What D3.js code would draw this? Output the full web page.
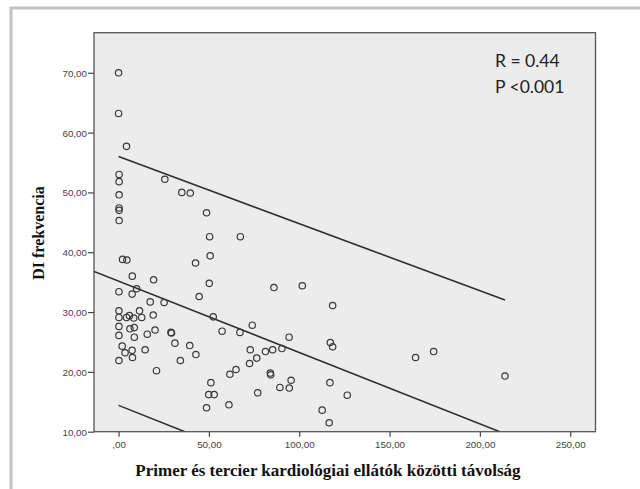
<!DOCTYPE html>
<html>
<head>
<meta charset="utf-8">
<script src="https://cdn.jsdelivr.net/npm/d3@7/dist/d3.min.js"></script>
<style>
  html, body { margin: 0; padding: 0; background: #ffffff; }
  svg { display: block; }
</style>
</head>
<body>
<svg id="chart" width="640" height="489"></svg>
<script>
// Distance between primary and tertiary cardiology care (x) vs. DI frequency (y)
const distance = [
  0, 0, 4.4, 0.3, 0.3, 0.3, 0.3, 0.3, 0.3, 25.6,
  35.0, 39.7, 48.7, 50.4, 67.4, 2.2, 4.6, 42.6, 50.7, 7.6,
  19.4, 50.2, 10.0, 0.2, 7.5, 44.6, 17.5, 25.2, 0.2, 11.6,
  19.2, 0.2, 4.4, 6.0, 8.4, 12.8, 52.4, 0.2, 6.3, 8.7,
  20.2, 29.0, 29.3, 57.3, 67.2, 74.0, 0.2, 8.7, 15.9, 31.2,
  2.0, 39.4, 3.6, 7.5, 14.7, 42.8, 72.9, 0.2, 7.7, 34.2,
  72.5, 76.5, 21.0, 65.0, 61.6, 51.1, 49.9, 52.9, 77.0, 61.1,
  48.7, 86.0, 101.7, 118.5, 94.4, 81.3, 85.3, 90.4, 117.2, 118.5,
  84.0, 84.2, 95.5, 89.3, 94.5, 117.0, 126.6, 112.7, 116.6, 164.4,
  174.4, 213.9
];
const diFrequency = [
  70.0, 63.2, 57.7, 53.0, 51.8, 49.6, 47.4, 47.0, 45.3, 52.2,
  50.0, 49.9, 46.6, 42.6, 42.6, 38.8, 38.7, 38.2, 39.4, 36.0,
  35.4, 34.8, 33.9, 33.4, 33.0, 32.6, 31.7, 31.6, 30.2, 30.2,
  29.5, 29.1, 29.1, 29.4, 29.0, 29.1, 29.2, 27.6, 27.2, 27.4,
  27.0, 26.6, 26.5, 26.8, 26.6, 27.8, 26.1, 25.8, 26.3, 24.8,
  24.3, 24.4, 23.2, 23.6, 23.7, 22.9, 23.7, 21.9, 22.4, 21.9,
  21.4, 22.3, 20.2, 20.4, 19.6, 18.2, 16.2, 16.2, 16.5, 14.5,
  14.0, 34.1, 34.4, 31.1, 25.8, 23.4, 23.7, 23.9, 24.9, 24.2,
  19.8, 19.5, 18.6, 17.4, 17.3, 18.2, 16.1, 13.6, 11.5, 22.4,
  23.4, 19.3
];

// Regression line and prediction bounds, as [x, y] pairs in data units
const fitLine = [[-13.6, 36.8], [211, 10]];
const upperBound = [[0, 56.0], [213.9, 32.0]];
const lowerBound = [[0, 14.4], [36.7, 10]];

const xTicks = [0, 50, 100, 150, 200, 250];
const yTicks = [10, 20, 30, 40, 50, 60, 70];
const statLines = ["R = 0.44", "P <0.001"];
const xTitle = "Primer és tercier kardiológiai ellátók közötti távolság";
const yTitle = "DI frekvencia";

const svg = d3.select("#chart");
const plot = { left: 94, right: 595.5, top: 32.7, bottom: 431.7 };

const x = d3.scaleLinear().domain([-13.6, 264]).range([plot.left, plot.right]);
const y = d3.scaleLinear().domain([10, 76.7]).range([plot.bottom, plot.top]);

const fmt = v => (v === 0 ? ",00" : d3.format(".2f")(v).replace(".", ","));

// outer frame (top and left edges)
svg.append("path")
  .attr("d", "M11,489 L11,8 L640,8")
  .attr("fill", "none")
  .attr("stroke", "#c4c4c4")
  .attr("stroke-width", 3);

// plot background
svg.append("rect")
  .attr("x", plot.left).attr("y", plot.top)
  .attr("width", plot.right - plot.left).attr("height", plot.bottom - plot.top)
  .attr("fill", "#ececec");

svg.append("clipPath").attr("id", "plotClip")
  .append("rect")
  .attr("x", plot.left).attr("y", plot.top)
  .attr("width", plot.right - plot.left).attr("height", plot.bottom - plot.top);

// axes
const xAxis = svg.append("g")
  .attr("transform", `translate(0,${plot.bottom})`)
  .call(d3.axisBottom(x).tickValues(xTicks).tickFormat(fmt).tickSize(5).tickSizeOuter(0));
const yAxis = svg.append("g")
  .attr("transform", `translate(${plot.left},0)`)
  .call(d3.axisLeft(y).tickValues(yTicks).tickFormat(fmt).tickSize(6).tickSizeOuter(0));

[xAxis, yAxis].forEach(g => {
  g.select(".domain").remove();
  g.selectAll(".tick line").attr("stroke", "#444").attr("stroke-width", 1.2);
  g.selectAll(".tick text")
    .attr("fill", "#444")
    .style("font-family", "'Liberation Sans', Arial, sans-serif")
    .style("font-size", "9.8px");
});
xAxis.selectAll(".tick text").attr("dy", "0.85em").attr("y", 8);
yAxis.selectAll(".tick text").attr("x", -7).attr("dy", "0.35em");

// fit line and prediction bounds
const line = d3.line().x(d => x(d[0])).y(d => y(d[1]));
const lines = svg.append("g").attr("clip-path", "url(#plotClip)");
[fitLine, upperBound, lowerBound].forEach(seg => {
  lines.append("path")
    .attr("d", line(seg))
    .attr("fill", "none")
    .attr("stroke", "#2e2e2e")
    .attr("stroke-width", 1.6);
});

// data points
svg.append("g")
  .selectAll("circle")
  .data(d3.range(distance.length))
  .join("circle")
  .attr("cx", i => x(distance[i]))
  .attr("cy", i => y(diFrequency[i]))
  .attr("r", 3.2)
  .attr("fill", "none")
  .attr("stroke", "#3a3a3a")
  .attr("stroke-width", 1.2);

// plot frame
svg.append("rect")
  .attr("x", plot.left).attr("y", plot.top)
  .attr("width", plot.right - plot.left).attr("height", plot.bottom - plot.top)
  .attr("fill", "none")
  .attr("stroke", "#555")
  .attr("stroke-width", 1.3);

// statistics text
svg.append("g")
  .selectAll("text")
  .data(statLines)
  .join("text")
  .attr("x", 495)
  .attr("y", (d, i) => 66.5 + i * 26.5)
  .attr("fill", "#222")
  .style("font-family", "Lato, 'Open Sans', sans-serif")
  .style("font-size", "17.5px")
  .text(d => d);

// axis titles
svg.append("text")
  .attr("x", 328)
  .attr("y", 476)
  .attr("text-anchor", "middle")
  .attr("fill", "#111")
  .style("font-family", "'Liberation Serif', 'Times New Roman', serif")
  .style("font-weight", "bold")
  .style("font-size", "17px")
  .text(xTitle);

svg.append("text")
  .attr("transform", "translate(44,233) rotate(-90)")
  .attr("text-anchor", "middle")
  .attr("fill", "#111")
  .style("font-family", "'Liberation Serif', 'Times New Roman', serif")
  .style("font-weight", "bold")
  .style("font-size", "16px")
  .text(yTitle);
</script>
</body>
</html>
